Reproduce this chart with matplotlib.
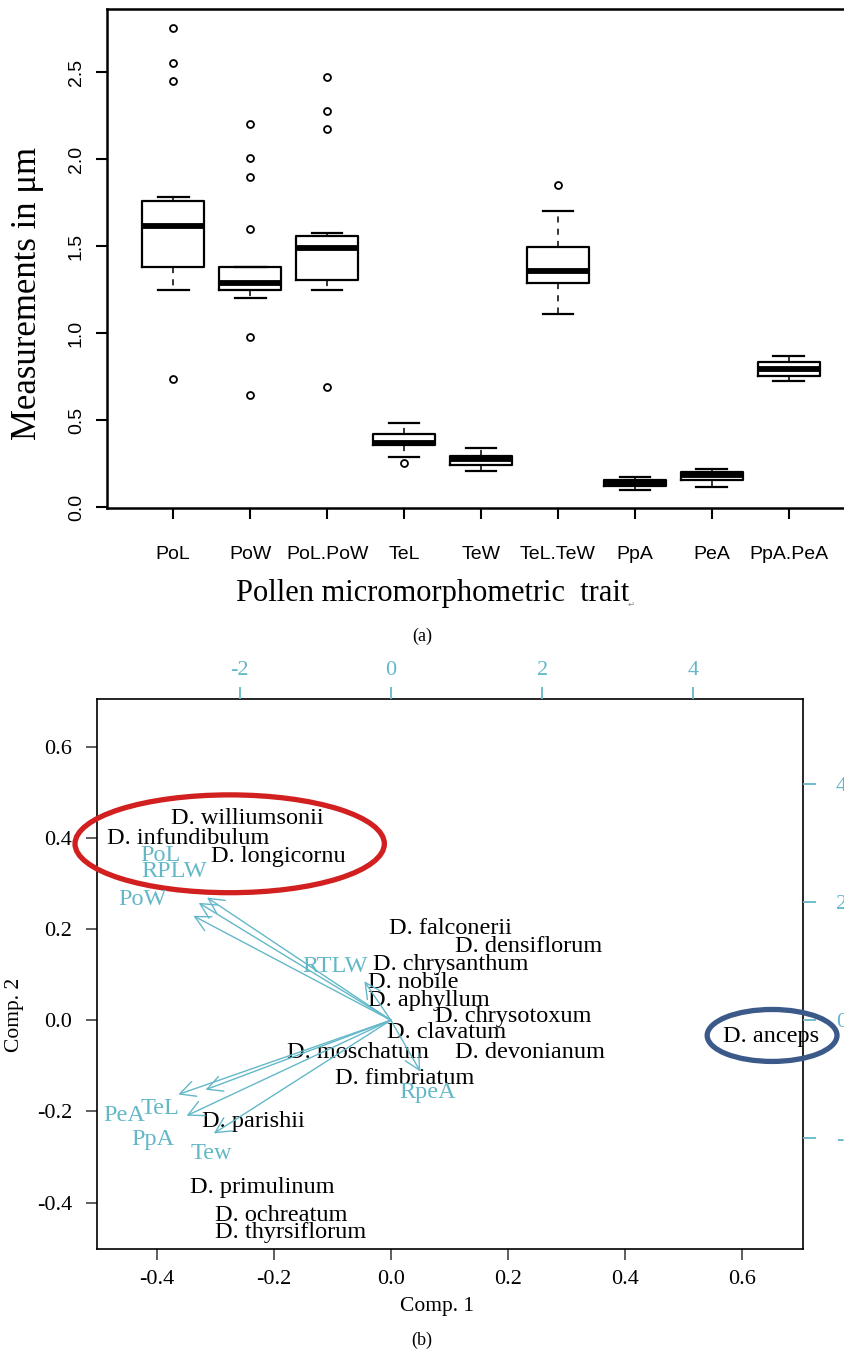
import numpy as np
import matplotlib
matplotlib.use("Agg")
import matplotlib.pyplot as plt
from matplotlib.patches import Ellipse

SERIF = ["Liberation Serif", "DejaVu Serif"]
SANS = ["Liberation Sans", "DejaVu Sans"]
CYAN = "#63b8c8"

# ── panel (a): box plot summaries ──────────────────────────────────────────
traits = ["PoL", "PoW", "PoL.PoW", "TeL", "TeW", "TeL.TeW", "PpA", "PeA", "PpA.PeA"]
whis_lo = [1.251, 1.205, 1.251, 0.291, 0.209, 1.109, 0.099, 0.115, 0.728]
q1      = [1.383, 1.249, 1.306, 0.358, 0.243, 1.289, 0.122, 0.157, 0.756]
median  = [1.617, 1.291, 1.489, 0.371, 0.276, 1.360, 0.141, 0.186, 0.797]
q3      = [1.760, 1.383, 1.561, 0.423, 0.295, 1.498, 0.157, 0.203, 0.837]
whis_hi = [1.785, 1.383, 1.575, 0.483, 0.343, 1.701, 0.176, 0.218, 0.870]
outliers = [
    [2.753, 2.552, 2.450, 0.737],
    [2.201, 2.006, 1.898, 1.599, 0.980, 0.645],
    [2.475, 2.276, 2.172, 0.693],
    [0.253],
    [],
    [1.852],
    [], [], [],
]

# ── panel (b): PCA biplot ─────────────────────────────────────────────────
species = ["D. williumsonii", "D. infundibulum", "D. longicornu", "D. falconerii",
           "D. densiflorum", "D. chrysanthum", "D. nobile", "D. aphyllum",
           "D. chrysotoxum", "D. clavatum", "D. moschatum", "D. devonianum",
           "D. anceps", "D. fimbriatum", "D. parishii", "D. primulinum",
           "D. ochreatum", "D. thyrsiflorum"]
comp1 = [-0.246, -0.347, -0.193, 0.102, 0.236, 0.102, 0.039, 0.065, 0.209,
         0.095, -0.057, 0.238, 0.651, 0.023, -0.235, -0.220, -0.187, -0.171]
comp2 = [0.443, 0.398, 0.359, 0.202, 0.162, 0.122, 0.082, 0.043, 0.007,
         -0.028, -0.070, -0.070, -0.035, -0.128, -0.222, -0.367, -0.429, -0.466]

variables = ["PoL", "RPLW", "PoW", "RTLW", "RpeA", "PeA", "TeL", "PpA", "Tew"]
# loadings (arrow tips) on the top/right axis scale
load1 = [-2.43, -2.54, -2.61, -0.35, 0.39, -2.81, -2.45, -2.70, -2.34]
load2 = [2.08, 1.99, 1.77, 0.66, -0.87, -1.26, -1.18, -1.62, -1.92]
# where the variable names sit (same scale)
lab1 = [-3.05, -2.87, -3.28, -0.74, 0.49, -3.53, -3.05, -3.14, -2.37]
lab2 = [2.79, 2.52, 2.04, 0.91, -1.23, -1.62, -1.50, -2.02, -2.26]

LIM_B = (-0.502, 0.704)
SCALE = 7.73  # ratio between loading axes and score axes

W, H = 844, 1355
fig = plt.figure(figsize=(W / 100, H / 100), dpi=100)
fig.patch.set_facecolor("white")


def rect(left, top, right, bottom):
    return [left / W, 1 - bottom / H, (right - left) / W, (bottom - top) / H]


# ───────────────────────── panel (a) ─────────────────────────
ax = fig.add_axes(rect(107, 9.3, 855, 508.3))
stats = []
for i, name in enumerate(traits):
    stats.append(dict(label=name, med=median[i], q1=q1[i], q3=q3[i],
                      whislo=whis_lo[i], whishi=whis_hi[i], fliers=outliers[i]))
ax.bxp(stats, positions=np.arange(1, len(traits) + 1), widths=0.8, capwidths=0.4,
       patch_artist=False,
       boxprops=dict(color="black", lw=1.6),
       medianprops=dict(color="black", lw=4.2, solid_capstyle="butt"),
       whiskerprops=dict(color="black", lw=1.1, linestyle=(0, (4, 4))),
       capprops=dict(color="black", lw=1.6),
       flierprops=dict(marker="o", markerfacecolor="none", markeredgecolor="black",
                       markersize=5, markeredgewidth=1.3))
ax.set_xlim(0.14, 9.86)
ax.set_ylim(-0.006, 2.862)
ax.set_yticks([0.0, 0.5, 1.0, 1.5, 2.0, 2.5])
ax.set_yticklabels([f"{v:.1f}" for v in [0.0, 0.5, 1.0, 1.5, 2.0, 2.5]],
                   rotation=90, va="center", family=SANS, fontsize=14)
ax.set_xticks(np.arange(1, len(traits) + 1))
ax.set_xticklabels(traits, family=SANS, fontsize=14)
ax.tick_params(axis="both", length=8, width=1.5, color="black")
ax.tick_params(axis="x", pad=19)
ax.tick_params(axis="y", pad=8)
for sp in ax.spines.values():
    sp.set_linewidth(1.8)
ax.spines["right"].set_visible(False)

fig.text(28 / W, 1 - 294 / H, "Measurements in μm", rotation=90, ha="center",
         va="center", family=SERIF, fontsize=25)
fig.text(433 / W, 1 - 593 / H, "Pollen micromorphometric  trait", ha="center",
         va="center", family=SERIF, fontsize=22)
fig.text(631 / W, 1 - 604 / H, "↵", ha="center", va="center",
         family=["DejaVu Sans"], fontsize=6, color="#888888")
fig.text(422 / W, 1 - 636 / H, "(a)", ha="center", va="center",
         family=SERIF, fontsize=13)

# ───────────────────────── panel (b) ─────────────────────────
rb = rect(97.3, 699.3, 802.5, 1249)
axb = fig.add_axes(rb)
axb.set_xlim(*LIM_B)
axb.set_ylim(*LIM_B)
for name, x, y in zip(species, comp1, comp2):
    axb.text(x, y, name, ha="center", va="center", family=SERIF, fontsize=17.5,
             color="black", zorder=3)
ticks_b = [-0.4, -0.2, 0.0, 0.2, 0.4, 0.6]
axb.set_xticks(ticks_b)
axb.set_xticklabels([f"{t:.1f}" for t in ticks_b], family=SERIF, fontsize=16)
axb.set_yticks(ticks_b)
axb.set_yticklabels([f"{t:.1f}" for t in ticks_b], family=SERIF, fontsize=16)
axb.tick_params(axis="both", length=8, width=1.1, color="#333333")
axb.tick_params(axis="x", pad=7)
axb.tick_params(axis="y", pad=10)
for sp in axb.spines.values():
    sp.set_linewidth(1.2)

# loadings axes (top / right)
axl = fig.add_axes(rb, frameon=False)
axl.patch.set_visible(False)
axl.set_xlim(LIM_B[0] * SCALE, LIM_B[1] * SCALE)
axl.set_ylim(LIM_B[0] * SCALE, LIM_B[1] * SCALE)
axl.xaxis.tick_top()
axl.yaxis.tick_right()
axl.set_xticks([-2, 0, 2, 4])
axl.set_xticklabels(["-2", "0", "2", "4"], family=SERIF, fontsize=16, color=CYAN)
axl.set_yticks([-2, 0, 2, 4])
axl.set_yticklabels(["-2", "0", "2", "4"], family=SERIF, fontsize=16, color=CYAN)
axl.tick_params(axis="both", length=9, width=1.3, color=CYAN)
axl.tick_params(axis="x", pad=5)
axl.tick_params(axis="y", pad=15)

for tx, ty in zip(load1, load2):
    axl.annotate("", xy=(tx, ty), xytext=(0, 0),
                 arrowprops=dict(arrowstyle="->,head_length=0.55,head_width=0.28",
                                 color=CYAN, lw=1.0, shrinkA=0, shrinkB=0,
                                 mutation_scale=20), zorder=4)
for name, x, y in zip(variables, lab1, lab2):
    axl.text(x, y, name, ha="center", va="center", family=SERIF, fontsize=17.5,
             color=CYAN, zorder=4)

# highlighted groups
axb.add_patch(Ellipse((-0.2756, 0.387), 0.529, 0.2146, fill=False,
                      edgecolor="#d21f1f", lw=3.8, clip_on=False, zorder=5))
axb.add_patch(Ellipse((0.652, -0.0335), 0.222, 0.114, fill=False,
                      edgecolor="#3b5a8a", lw=3.8, clip_on=False, zorder=5))

fig.text(437 / W, 1 - 1307 / H, "Comp. 1", ha="center", va="center",
         family=SERIF, fontsize=15.5)
fig.text(15 / W, 1 - 1015 / H, "Comp. 2", rotation=90, ha="center", va="center",
         family=SERIF, fontsize=15.5)
fig.text(422 / W, 1 - 1340 / H, "(b)", ha="center", va="center",
         family=SERIF, fontsize=13)

fig.savefig("out.png", dpi=100)
